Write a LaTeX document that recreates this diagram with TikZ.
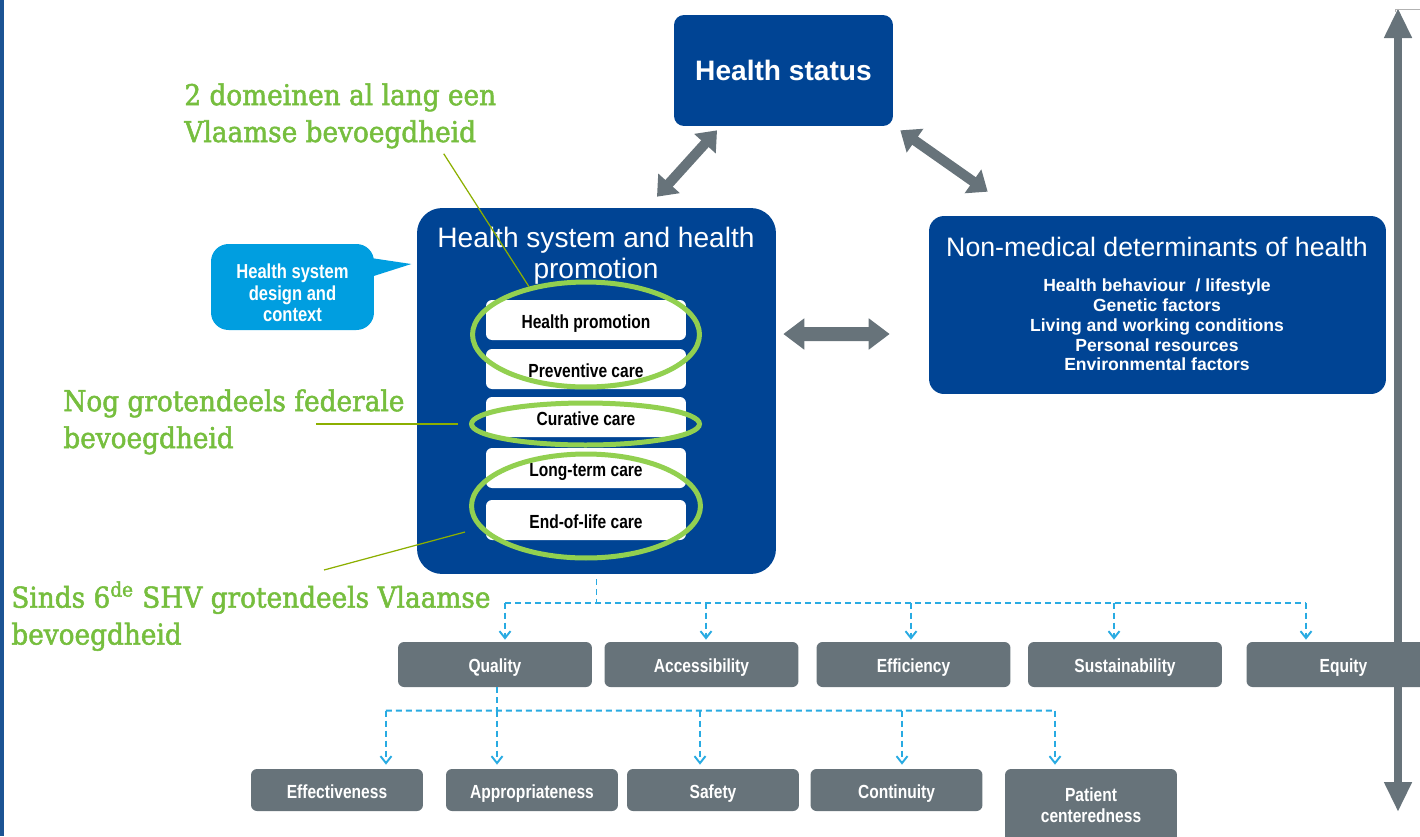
\documentclass[tikz,border=0pt]{standalone}
\usepackage{fontspec}
\setmainfont{Liberation Sans}
\newfontfamily\narrowfont[FakeStretch=0.82]{Liberation Sans}
\newfontfamily\notefont[FakeStretch=0.92,FakeBold=1.8]{DejaVu Serif}
\usepackage{tikz}
\usetikzlibrary{arrows.meta}
\usetikzlibrary{shapes.geometric}

\definecolor{hsblue}{RGB}{0,68,148}
\definecolor{boxgray}{RGB}{103,115,122}
\definecolor{bubbleblue}{RGB}{0,158,224}
\definecolor{linkblue}{RGB}{41,171,226}
\definecolor{ringgreen}{RGB}{146,208,80}
\definecolor{notegreen}{RGB}{118,190,62}
\definecolor{pointergreen}{RGB}{140,175,0}
\definecolor{edgeblue}{RGB}{28,84,148}

\tikzset{
	bluebox/.style={fill=hsblue, rounded corners=0.2cm, text=white, inner sep=0pt},
	capcentred/.style={text height=1.8ex, text depth=0pt},
	carebox/.style={fill=white, rounded corners=0.12cm, minimum width=4cm, minimum height=0.8cm,
		inner sep=0pt, capcentred, font=\narrowfont\bfseries\fontsize{10.8}{12}\selectfont},
	grayfill/.style={fill=boxgray, rounded corners=0.12cm, text=white, inner sep=0pt, align=center,
		font=\narrowfont\bfseries\fontsize{10.8}{12}\selectfont},
	dimbox/.style={grayfill, capcentred, minimum width=3.88cm, minimum height=0.9cm},
	subbox/.style={grayfill, minimum width=3.44cm, minimum height=0.84cm},
	ring/.style={ellipse, draw=ringgreen, line width=0.1cm, inner sep=0pt},
	note/.style={anchor=north west, inner sep=0pt, align=left, text=notegreen,
		font=\notefont\fontsize{16.3}{21}\selectfont},
	noteline/.style={draw=pointergreen, line width=0.7pt},
	bigarrow/.style={draw=boxgray, line width=0.2cm,
		{Triangle[length=0.36cm,width=0.56cm]}-{Triangle[length=0.36cm,width=0.56cm]}},
	dashlink/.style={draw=linkblue, line width=1.1pt, dash pattern=on 0.12cm off 0.08cm},
	linktip/.style={dashlink, -{Straight Barb[length=0.14cm,width=0.22cm]}}
}

\begin{document}
\begin{tikzpicture}[x=0.02cm, y=-0.02cm]
	\useasboundingbox (0,0) rectangle (1420,836);
	\fill[edgeblue] (0,0) rectangle (4,836);

	% health status and the two main blocks
	\node[bluebox, minimum width=4.38cm, minimum height=2.22cm,
		font=\bfseries\fontsize{16}{19}\selectfont] (hstatus) at (783.5,70.5) {Health status};

	\node[bluebox, rounded corners=0.5cm, minimum width=7.18cm, minimum height=7.32cm] (hsys) at (596.5,391) {};
	\node[text=white, align=center, font=\fontsize{16}{17.6}\selectfont] (hsystitle) at (596,256) {Health system and health\\promotion};

	\foreach \y/\name/\txt in {320/hp/Health promotion, 369/prev/Preventive care, 417/cur/Curative care,
		468/ltc/Long-term care, 520/eol/End-of-life care}
		\node[carebox] (\name) at (586,\y) {\txt};

	\node[bluebox, rounded corners=0.3cm, minimum width=9.14cm, minimum height=3.56cm] (nonmed) at (1157.5,305) {};
	\node[text=white, font=\fontsize{15.2}{18}\selectfont] (nonmedtitle) at (1157,247) {Non-medical determinants of health};
	\node[text=white, align=center, font=\bfseries\fontsize{10}{11.3}\selectfont] (factors) at (1157,325)
		{Health behaviour\ \ / lifestyle\\Genetic factors\\Living and working conditions\\Personal resources\\Environmental factors};

	% callout
	\node[fill=bubbleblue, rounded corners=0.35cm, minimum width=3.26cm, minimum height=1.72cm] (design) at (292.5,287) {};
	\node[text=white, align=center, font=\narrowfont\bfseries\fontsize{11.5}{12.2}\selectfont] (designtext) at (292.5,293)
		{Health system\\design and\\context};
	\fill[bubbleblue] ([xshift=-0.2cm,yshift=0.6cm]design.east) -- ([xshift=0.74cm,yshift=0.46cm]design.east)
		-- ([xshift=-0.2cm,yshift=0.16cm]design.east) -- cycle;

	% grey arrows
	\draw[bigarrow] ([xshift=1.21cm,yshift=0.22cm]hsys.north) -- ([xshift=-1.33cm,yshift=-0.08cm]hstatus.south);
	\draw[bigarrow] ([xshift=0.14cm,yshift=-0.08cm]hstatus.south east) -- ([xshift=1.18cm,yshift=0.48cm]nonmed.north west);
	\draw[draw=boxgray, line width=0.28cm, {Triangle[length=0.42cm,width=0.6cm]}-{Triangle[length=0.42cm,width=0.6cm]}]
		([xshift=0.14cm,yshift=1.14cm]hsys.east) -- ([xshift=-0.78cm,yshift=-0.58cm]nonmed.west);

	% dimensions
	\foreach \x/\name/\txt in {495/quality/Quality, 701.5/access/Accessibility, 913.5/effic/Efficiency,
		1125/sustain/Sustainability, 1343.5/equity/Equity}
		\node[dimbox] (\name) at (\x,664.5) {\txt};

	\foreach \x/\name/\txt in {337/effect/Effectiveness, 532/approp/Appropriateness, 713/safety/Safety,
		896.5/contin/Continuity}
		\node[subbox, capcentred] (\name) at (\x,790) {\txt};
	\node[subbox, minimum height=1.46cm] (patient) at (1091,805.5) {Patient\\centeredness};

	\draw[dashlink] ([yshift=-0.1cm]hsys.south) -- ([yshift=-0.58cm]hsys.south);
	\draw[dashlink] ([xshift=0.2cm,yshift=0.78cm]quality.north) -- ([xshift=-0.75cm,yshift=0.78cm]equity.north);
	\foreach \name/\dx in {quality/0.2, access/0.09, effic/-0.05, sustain/-0.22, equity/-0.75}
		\draw[linktip] ([xshift=\dx cm,yshift=0.78cm]\name.north) -- ([xshift=\dx cm,yshift=0.04cm]\name.north);

	\draw[dashlink] ([xshift=0.04cm]quality.south) -- ([xshift=0.04cm,yshift=-0.48cm]quality.south);
	\draw[dashlink] ([xshift=0.98cm,yshift=1.16cm]effect.north) -- ([xshift=-0.72cm,yshift=1.16cm]patient.north);
	\foreach \name/\dx in {effect/0.98, approp/-0.7, safety/-0.26, contin/0.11, patient/-0.72}
		\draw[linktip] ([xshift=\dx cm,yshift=1.16cm]\name.north) -- ([xshift=\dx cm,yshift=0.08cm]\name.north);

	% scale arrow on the right
	\coordinate (scaletop) at (1398,8);
	\coordinate (scalebot) at (1398,812);
	\draw[draw=boxgray, line width=0.16cm, {Triangle[length=0.6cm,width=0.52cm]}-{Triangle[length=0.6cm,width=0.52cm]}]
		(scaletop) -- (scalebot);
	\draw[gray!60, line width=0.5pt] (1395,12) -- (1395,9) -- (1420,9);

	% green rings and notes
	\node[ring, minimum width=4.54cm, minimum height=2.1cm] (ring1) at (586,334.5) {};
	\node[ring, minimum width=4.56cm, minimum height=0.84cm] (ring2) at (585.5,424) {};
	\node[ring, minimum width=4.58cm, minimum height=2.08cm] (ring3) at (586,506) {};

	\node[note] (noteflemish) at (184,83) {2 domeinen al lang een\\Vlaamse bevoegdheid};
	\node[note] (notefederal) at (63,389) {Nog grotendeels federale\\bevoegdheid};
	\node[note] (notereform) at (11,581) {Sinds 6\textsuperscript{de} SHV grotendeels Vlaamse\\bevoegdheid};

	\draw[noteline] ([xshift=2.07cm,yshift=-0.1cm]noteflemish.south) -- (ring1.140);
	\draw[noteline] ([xshift=-3.06cm]ring2.west) -- ([xshift=-0.22cm]ring2.west);
	\draw[noteline] ([xshift=-2.9cm,yshift=-1.28cm]ring3.west) -- ([xshift=-0.08cm,yshift=-0.52cm]ring3.west);
\end{tikzpicture}
\end{document}
